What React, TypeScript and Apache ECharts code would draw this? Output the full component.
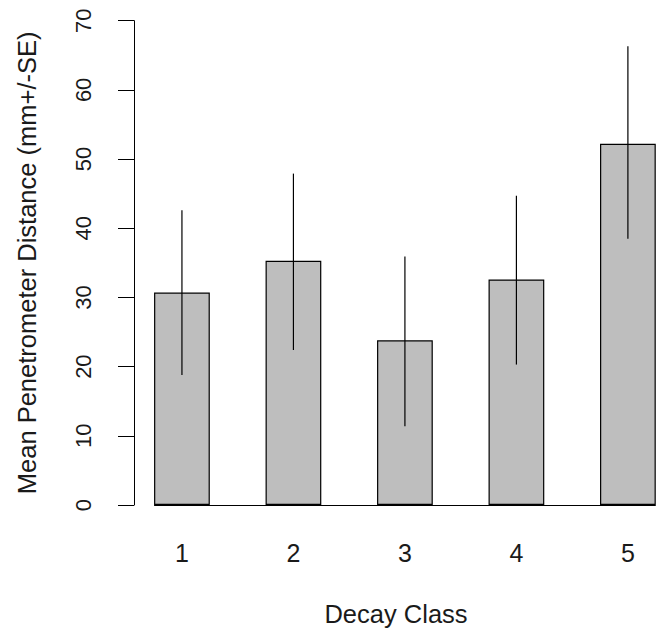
import React, { useEffect, useRef } from "react";
import * as echarts from "echarts";

const categories = ["1", "2", "3", "4", "5"];
const barMidpoints = [1.5, 3.5, 5.5, 7.5, 9.5];
const means = [30.7, 35.3, 23.8, 32.6, 52.2];
const lowerSE = [18.8, 22.4, 11.4, 20.3, 38.5];
const upperSE = [42.6, 47.9, 35.9, 44.7, 66.3];
const yTicks = [0, 10, 20, 30, 40, 50, 60, 70];

const FONT = "'Liberation Sans', Arial, sans-serif";

export default function App() {
  const ref = useRef<HTMLDivElement>(null);
  useEffect(() => {
    if (!ref.current) return;
    const chart = echarts.init(ref.current, null, { renderer: "svg" });
    const barData = barMidpoints.map((x, i) => [x, means[i]]);
    const errData = barMidpoints.map((x, i) => [x, lowerSE[i], upperSE[i]]);
    chart.setOption({
      animation: false,
      backgroundColor: "#ffffff",
      textStyle: { fontFamily: FONT },
      grid: { left: 134, top: 20.7, right: 0, bottom: 123.5, containLabel: false },
      xAxis: {
        type: "value",
        min: 0.64,
        max: 10.04,
        name: "Decay Class",
        nameLocation: "middle",
        nameGap: 96,
        nameTextStyle: { fontSize: 25.5, color: "#1a1a1a", fontFamily: FONT },
        axisLine: { show: false },
        axisTick: { show: false },
        splitLine: { show: false },
        axisLabel: {
          customValues: barMidpoints,
          formatter: (v: number) => {
            const idx = barMidpoints.indexOf(v);
            return idx >= 0 ? categories[idx] : "";
          },
          margin: 35,
          fontSize: 25,
          color: "#1a1a1a",
          fontFamily: FONT,
        },
      },
      yAxis: {
        type: "value",
        min: yTicks[0],
        max: yTicks[yTicks.length - 1],
        interval: 10,
        name: "Mean Penetrometer Distance (mm+/-SE)",
        nameLocation: "middle",
        nameRotate: 90,
        nameGap: 94,
        nameTextStyle: { fontSize: 25.5, color: "#1a1a1a", fontFamily: FONT },
        axisLine: { show: true, lineStyle: { color: "#000", width: 1 } },
        axisTick: { show: true, length: 16, inside: false, lineStyle: { color: "#000", width: 1 } },
        splitLine: { show: false },
        axisLabel: {
          rotate: 90,
          margin: 40,
          fontSize: 22,
          color: "#1a1a1a",
          fontFamily: FONT,
        },
      },
      series: [
        {
          type: "bar",
          data: barData,
          barWidth: 55.75,
          itemStyle: { color: "#bebebe", borderColor: "#000", borderWidth: 1.2 },
          markLine: {
            silent: true,
            symbol: "none",
            label: { show: false },
            lineStyle: { color: "#000", width: 1.2, type: "solid" },
            data: [[{ coord: [1, 0] }, { coord: [10, 0] }]],
          },
        },
        {
          type: "custom",
          data: errData,
          renderItem: (params: any, api: any) => {
            const x = api.value(0);
            const lo = api.coord([x, api.value(1)]);
            const hi = api.coord([x, api.value(2)]);
            return {
              type: "line",
              shape: { x1: lo[0], y1: lo[1], x2: hi[0], y2: hi[1] },
              style: { stroke: "#000", lineWidth: 1.2 },
            };
          },
          z: 5,
        },
      ],
    });
    return () => chart.dispose();
  }, []);
  return (
    <div
      ref={ref}
      style={{ position: "fixed", left: 0, top: 0, width: 658, height: 632, background: "#fff" }}
    />
  );
}
